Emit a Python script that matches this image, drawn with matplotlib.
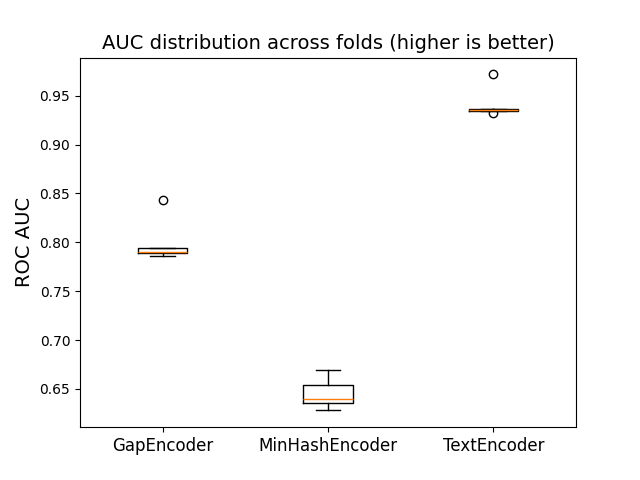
import matplotlib
matplotlib.use("Agg")
import matplotlib.pyplot as plt

encoders = ["GapEncoder", "MinHashEncoder", "TextEncoder"]
gap_auc = [0.786, 0.789, 0.790, 0.794, 0.843]
minhash_auc = [0.628, 0.636, 0.6395, 0.6535, 0.6695]
text_auc = [0.932, 0.9345, 0.935, 0.936, 0.9718]

fig, ax = plt.subplots(figsize=(6.4, 4.8))
ax.boxplot([gap_auc, minhash_auc, text_auc])
ax.set_xticks([1, 2, 3])
ax.set_xticklabels(encoders, fontsize=12)
ax.set_ylabel("ROC AUC", fontsize=14)
ax.set_title("AUC distribution across folds (higher is better)", fontsize=14)
fig.savefig("out.png", dpi=100)
